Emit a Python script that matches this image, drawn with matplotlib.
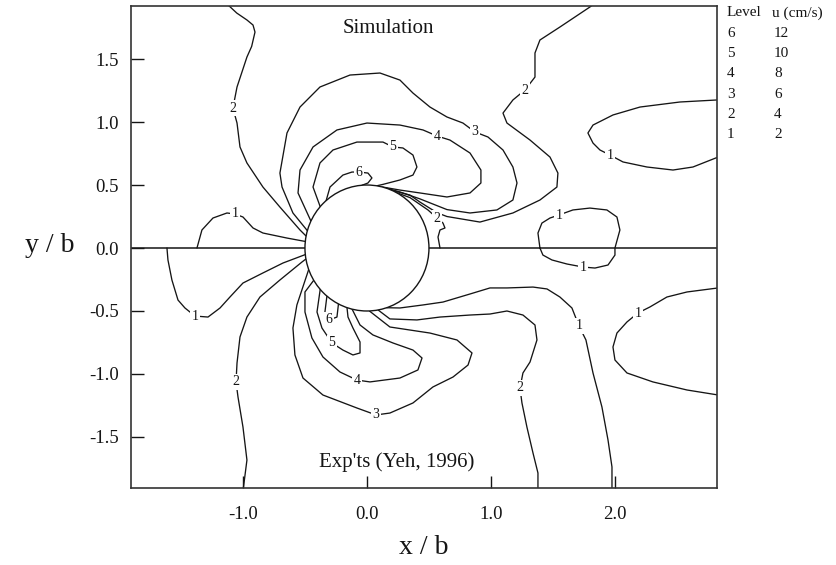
import matplotlib
matplotlib.use("Agg")
import matplotlib.pyplot as plt
from matplotlib.patches import Ellipse
from matplotlib.ticker import FixedLocator, FixedFormatter

plt.rcParams['font.family'] = ['Liberation Serif', 'DejaVu Serif']
plt.rcParams['axes.unicode_minus'] = False

# ---- contour lines (x/b, y/b) ----
c1_tl_x = [-1.371, -1.331, -1.242, -1.129, -1.065, -1.0, -0.919, -0.839, -0.645, -0.497]
c1_tl_y = [0.0, 0.143, 0.238, 0.278, 0.270, 0.246, 0.159, 0.119, 0.079, 0.052]

c1_bl_x = [-1.613, -1.605, -1.573, -1.524, -1.468, -1.387, -1.282, -1.185, -1.105, -1.0, -0.839, -0.677, -0.497]
c1_bl_y = [0.0, -0.095, -0.254, -0.413, -0.476, -0.540, -0.548, -0.476, -0.389, -0.278, -0.198, -0.119, -0.052]

c2_tl_x = [-1.121, -1.05, -0.968, -0.919, -0.903, -0.93, -0.968, -1.048, -1.081, -1.048, -1.024, -0.968, -0.839, -0.702, -0.540, -0.491]
c2_tl_y = [1.93, 1.865, 1.81, 1.770, 1.714, 1.60, 1.516, 1.278, 1.111, 0.992, 0.802, 0.675, 0.484, 0.325, 0.143, 0.095]

c2_bl_x = [-0.492, -0.524, -0.702, -0.863, -0.968, -1.024, -1.048, -1.056, -1.040, -1.0, -0.968, -1.0]
c2_bl_y = [-0.087, -0.111, -0.254, -0.389, -0.548, -0.706, -0.913, -1.063, -1.183, -1.421, -1.683, -1.93]

c3_top_x = [-0.481, -0.597, -0.685, -0.702, -0.645, -0.540, -0.379, -0.137, 0.105, 0.266, 0.371, 0.508, 0.645,
            0.774, 0.871, 0.976, 1.097, 1.177, 1.210, 1.177, 1.048, 0.831, 0.645, 0.427, 0.266, 0.16]
c3_top_y = [0.138, 0.278, 0.484, 0.595, 0.913, 1.119, 1.278, 1.373, 1.389, 1.333, 1.230, 1.119, 1.040,
            0.992, 0.921, 0.881, 0.778, 0.643, 0.516, 0.381, 0.302, 0.278, 0.305, 0.39, 0.445, 0.474]

c3_bot_x = [-0.47, -0.565, -0.597, -0.581, -0.516, -0.355, -0.081, 0.073, 0.185, 0.371, 0.532, 0.694,
            0.815, 0.847, 0.726, 0.508, 0.185, 0.02]
c3_bot_y = [-0.171, -0.452, -0.635, -0.849, -1.032, -1.167, -1.270, -1.325, -1.310, -1.230, -1.103, -1.024,
            -0.929, -0.833, -0.730, -0.675, -0.627, -0.5]

c4_top_x = [-0.452, -0.556, -0.540, -0.435, -0.242, 0.0, 0.266, 0.452, 0.565, 0.669, 0.831, 0.919, 0.919,
            0.831, 0.645, 0.427, 0.266, 0.12]
c4_top_y = [0.214, 0.437, 0.619, 0.802, 0.937, 0.992, 0.976, 0.937, 0.889, 0.857, 0.754, 0.619, 0.516,
            0.437, 0.405, 0.437, 0.460, 0.485]

c4_bot_x = [-0.429, -0.5, -0.5, -0.444, -0.355, -0.218, -0.081, 0.024, 0.266, 0.411, 0.444, 0.371, 0.210,
            0.048, -0.056, -0.12]
c4_bot_y = [-0.256, -0.349, -0.508, -0.714, -0.865, -0.984, -1.048, -1.063, -1.032, -0.968, -0.873, -0.810,
            -0.754, -0.690, -0.611, -0.485]

c5_top_x = [-0.377, -0.435, -0.379, -0.274, -0.081, 0.129, 0.210, 0.290, 0.371, 0.403, 0.371, 0.266, 0.129, 0.08]
c5_top_y = [0.328, 0.484, 0.675, 0.778, 0.841, 0.841, 0.802, 0.794, 0.738, 0.643, 0.579, 0.540, 0.505, 0.494]

c5_bot_x = [-0.377, -0.403, -0.363, -0.282, -0.194, -0.113, -0.056, -0.056, -0.113, -0.153, -0.161]
c5_bot_y = [-0.328, -0.508, -0.635, -0.754, -0.810, -0.849, -0.833, -0.746, -0.635, -0.548, -0.473]

c6_top_x = [-0.329, -0.298, -0.194, -0.121, -0.065, 0.008, 0.040, 0.008, -0.04]
c6_top_y = [0.377, 0.484, 0.579, 0.603, 0.603, 0.595, 0.556, 0.516, 0.498]

c6_bot_x = [-0.323, -0.339, -0.306, -0.242, -0.23]
c6_bot_y = [-0.382, -0.508, -0.571, -0.548, -0.445]

c2_near_x = [0.24, 0.347, 0.492, 0.565, 0.613, 0.629, 0.589, 0.573, 0.589]
c2_near_y = [0.439, 0.40, 0.302, 0.238, 0.198, 0.159, 0.143, 0.087, 0.0]

c2_tr_x = [0.2, 0.347, 0.427, 0.565, 0.645, 0.911, 1.177, 1.395, 1.532, 1.540, 1.476, 1.315, 1.129, 1.097,
           1.177, 1.274, 1.355, 1.355, 1.395, 1.556, 1.798, 1.82]
c2_tr_y = [0.458, 0.42, 0.365, 0.28, 0.25, 0.206, 0.278, 0.381, 0.484, 0.595, 0.722, 0.857, 0.992, 1.071,
           1.175, 1.254, 1.357, 1.548, 1.651, 1.754, 1.913, 1.93]

c1_loop_x = [1.395, 1.379, 1.411, 1.476, 1.548, 1.661, 1.798, 1.935, 2.016, 2.040, 2.0, 2.0, 1.944, 1.839,
             1.742, 1.613, 1.492, 1.419, 1.395]
c1_loop_y = [0.0, 0.119, 0.198, 0.238, 0.262, 0.302, 0.317, 0.302, 0.246, 0.143, 0.0, -0.056, -0.135, -0.159,
             -0.151, -0.127, -0.095, -0.056, 0.0]

c1_tr_x = [2.84, 2.524, 2.202, 1.984, 1.823, 1.782, 1.823, 1.879, 1.960, 2.065, 2.258, 2.468, 2.629, 2.84]
c1_tr_y = [1.176, 1.159, 1.119, 1.056, 0.976, 0.913, 0.833, 0.778, 0.738, 0.683, 0.643, 0.619, 0.643, 0.725]

c1_br_x = [2.84, 2.581, 2.419, 2.282, 2.185, 2.097, 2.016, 1.984, 2.0, 2.097, 2.306, 2.581, 2.84]
c1_br_y = [-0.316, -0.349, -0.389, -0.468, -0.516, -0.587, -0.675, -0.786, -0.889, -0.992, -1.063, -1.127, -1.168]

c1_bot_x = [0.16, 0.266, 0.452, 0.613, 0.831, 0.992, 1.129, 1.339, 1.452, 1.556, 1.653, 1.710, 1.766, 1.823,
            1.895, 1.944, 1.976, 1.976]
c1_bot_y = [-0.474, -0.476, -0.452, -0.429, -0.365, -0.317, -0.317, -0.310, -0.325, -0.389, -0.476, -0.619,
            -0.730, -0.992, -1.262, -1.524, -1.738, -1.93]

c2_bot_x = [0.09, 0.185, 0.403, 0.589, 0.831, 0.992, 1.129, 1.258, 1.355, 1.371, 1.315, 1.258, 1.234, 1.250,
            1.290, 1.339, 1.379, 1.379]
c2_bot_y = [-0.492, -0.563, -0.571, -0.548, -0.532, -0.524, -0.500, -0.532, -0.611, -0.730, -0.905, -0.992,
            -1.111, -1.230, -1.421, -1.627, -1.786, -1.93]

lines = [(c1_tl_x, c1_tl_y), (c1_bl_x, c1_bl_y), (c2_tl_x, c2_tl_y), (c2_bl_x, c2_bl_y),
         (c3_top_x, c3_top_y), (c3_bot_x, c3_bot_y), (c4_top_x, c4_top_y), (c4_bot_x, c4_bot_y),
         (c5_top_x, c5_top_y), (c5_bot_x, c5_bot_y), (c6_top_x, c6_top_y), (c6_bot_x, c6_bot_y),
         (c2_near_x, c2_near_y), (c2_tr_x, c2_tr_y), (c1_loop_x, c1_loop_y), (c1_tr_x, c1_tr_y),
         (c1_br_x, c1_br_y), (c1_bot_x, c1_bot_y), (c2_bot_x, c2_bot_y)]

# contour label texts and positions
label_text = ["1", "1", "2", "2", "3", "3", "4", "4", "5", "5", "6", "6", "2", "2", "1", "1", "1", "1", "1", "2"]
label_x = [-1.065, -1.387, -1.081, -1.056, 0.871, 0.073, 0.565, -0.081, 0.21, -0.282, -0.065, -0.306,
           0.565, 1.274, 1.548, 1.742, 1.96, 2.185, 1.71, 1.234]
label_y = [0.27, -0.54, 1.111, -1.063, 0.921, -1.325, 0.889, -1.048, 0.802, -0.754, 0.603, -0.571,
           0.238, 1.254, 0.262, -0.151, 0.738, -0.516, -0.619, -1.111]

# legend table
legend_levels = ["6", "5", "4", "3", "2", "1"]
legend_speeds = ["12", "10", "8", "6", "4", "2"]

x_ticks = [-1.0, 0.0, 1.0, 2.0]
x_ticklabels = ["-1.0", "0.0", "1.0", "2.0"]
y_ticks = [-1.5, -1.0, -0.5, 0.0, 0.5, 1.0, 1.5]
y_ticklabels = ["-1.5", "-1.0", "-0.5", "0.0", "0.5", "1.0", "1.5"]

x_limits = (-1.903, 2.823)
y_limits = (-1.905, 1.921)
cyl_radius = 0.5

W, H = 836, 565
fig = plt.figure(figsize=(W / 100, H / 100), dpi=100)
ax = fig.add_axes([131 / W, 1 - 488 / H, 586 / W, 482 / H])
ax.set_xlim(*x_limits)
ax.set_ylim(*y_limits)

ink = '#151515'
for xs, ys in lines:
    ax.plot(xs, ys, color=ink, lw=0.95, zorder=2, solid_capstyle='round')

for t, lx, ly in zip(label_text, label_x, label_y):
    ax.text(lx, ly, t, fontsize=10, ha='center', va='center', color=ink, zorder=5,
            bbox=dict(boxstyle='square,pad=0.12', fc='white', ec='none'))

# symmetry line and cylinder
ax.plot([x_limits[0], -cyl_radius], [0, 0], color=ink, lw=1.1, zorder=2)
ax.plot([cyl_radius, x_limits[1]], [0, 0], color=ink, lw=1.1, zorder=2)
ax.add_patch(Ellipse((0, 0), 2 * cyl_radius, 2 * cyl_radius, fc='white', ec=ink, lw=1.0, zorder=4))

ax.xaxis.set_major_locator(FixedLocator(x_ticks))
ax.xaxis.set_major_formatter(FixedFormatter(x_ticklabels))
ax.yaxis.set_major_locator(FixedLocator(y_ticks))
ax.yaxis.set_major_formatter(FixedFormatter(y_ticklabels))
ax.tick_params(direction='in', length=9, width=1.0, labelsize=13.5, colors=ink)
ax.tick_params(axis='x', pad=13)
ax.tick_params(axis='y', pad=9)
for s in ax.spines.values():
    s.set_linewidth(1.2)
    s.set_color('#333333')

ax.text(0.17, 1.746, "Simulation", fontsize=15, ha='center', va='center', color=ink, zorder=6)
ax.text(0.24, -1.70, "Exp'ts (Yeh, 1996)", fontsize=15, ha='center', va='center', color=ink, zorder=6)

fig.text(50 / W, 1 - 245 / H, "y / b", fontsize=20, ha='center', va='center', color=ink)
fig.text(424 / W, 1 - 548 / H, "x / b", fontsize=20, ha='center', va='center', color=ink)

# legend table at the right
row0 = 13
step = 20.3
fig.text(727 / W, 1 - row0 / H, "Level", fontsize=11, ha='left', va='center', color=ink)
fig.text(772 / W, 1 - row0 / H, "u (cm/s)", fontsize=11, ha='left', va='center', color=ink)
for i, (lv, sp) in enumerate(zip(legend_levels, legend_speeds)):
    yy = row0 + step * (i + 1)
    fig.text(727 / W, 1 - yy / H, lv, fontsize=11, ha='left', va='center', color=ink)
    fig.text(774 / W, 1 - yy / H, sp, fontsize=11, ha='left', va='center', color=ink)

fig.savefig("out.png", dpi=100, facecolor='white')
